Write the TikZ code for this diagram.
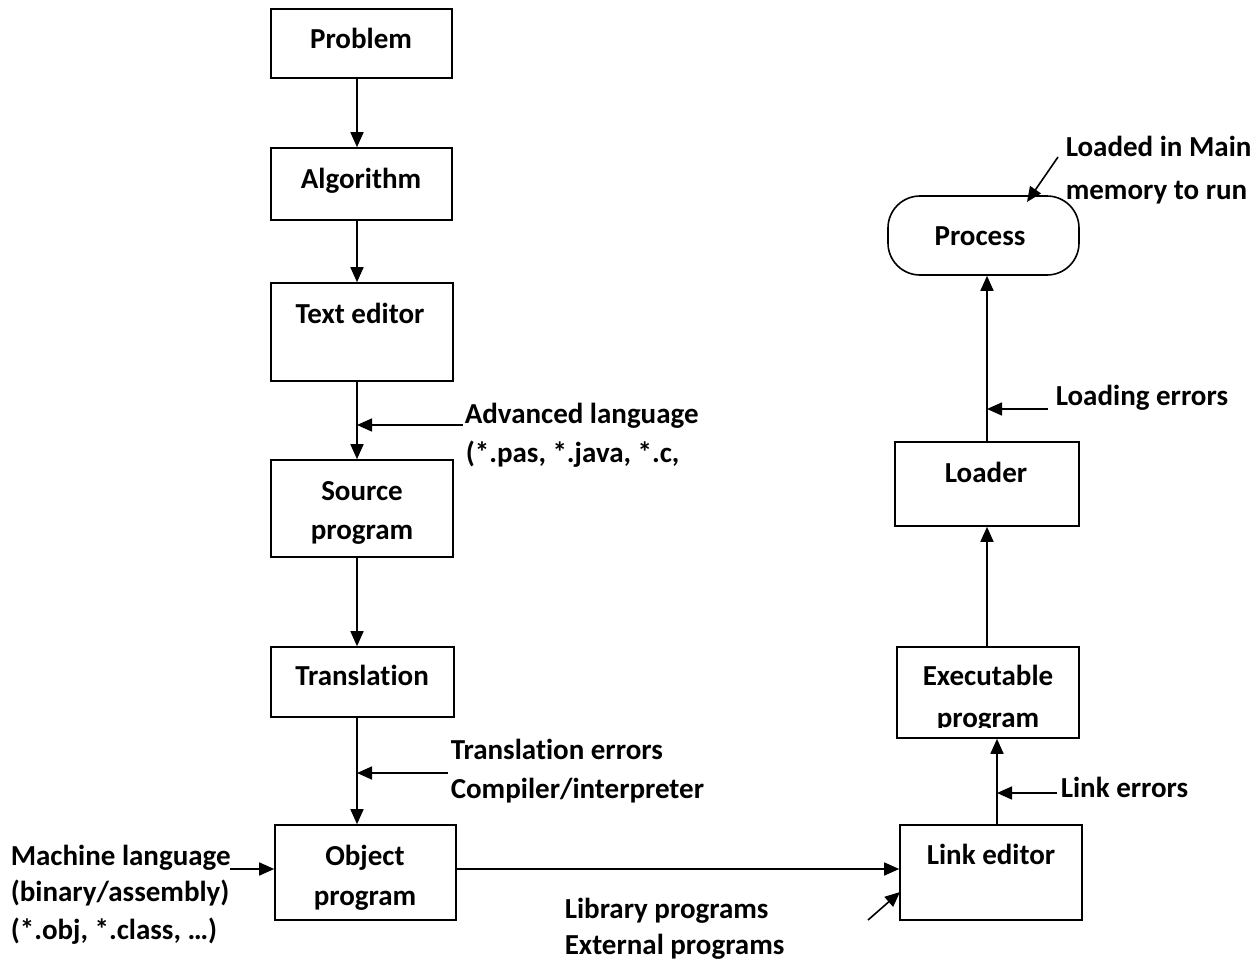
\documentclass[tikz,border=0pt]{standalone}
\usepackage{fontspec}
\setmainfont{Carlito}[Ligatures={NoCommon}]
\usetikzlibrary{arrows.meta,calc}
\begin{document}
\begin{tikzpicture}[x=1pt,y=-1pt,line width=1.6pt,
  txtfont/.style={font=\fontsize{29}{41}\selectfont\bfseries},
  box/.style={draw,rectangle,inner sep=0pt},
  intext/.style={txtfont,inner sep=0pt,anchor=base},
  lbl/.style={txtfont,inner sep=0pt,anchor=base west},
  arr/.style={-{Triangle[length=15pt,width=13pt]}}]
\useasboundingbox (0,0) rectangle (1256,964);
% left column
\node[box,minimum width=181pt,minimum height=69pt] (prob) at (361.5,43.5) {};
\node[intext] (probT) at (361,48) {Problem};
\node[box,minimum width=181pt,minimum height=72pt] (algo) at (361.5,184) {};
\node[intext] (algoT) at (361,188) {Algorithm};
\node[box,minimum width=182pt,minimum height=98pt] (edit) at (362,332) {};
\node[intext] (editT) at (360,323) {Text editor};
\node[box,minimum width=182pt,minimum height=97pt] (src) at (362,508.5) {};
\node[intext] (srcT1) at (362,500) {Source};
\node[intext] (srcT2) at (362,539) {program};
\node[box,minimum width=183pt,minimum height=70pt] (trans) at (362.5,682) {};
\node[intext] (transT) at (362,685) {Translation};
\node[box,minimum width=181pt,minimum height=95pt] (obj) at (365.5,872.5) {};
\node[intext] (objT1) at (365,865) {Object};
\node[intext] (objT2) at (365,905) {program};
% right column
\node[box,minimum width=182pt,minimum height=95pt] (link) at (991,872.5) {};
\node[intext] (linkT) at (991,864) {Link editor};
\node[box,minimum width=182pt,minimum height=91pt] (exe) at (988,692.5) {};
\begin{scope}
  \clip ($(exe.north west)$) rectangle ($(exe.south east)+(0,-11)$);
  \node[intext] (exeT1) at (988,685) {Executable};
  \node[intext] (exeT2) at (988,727) {program};
\end{scope}
\node[box,minimum width=184pt,minimum height=84pt] (load) at (987,484) {};
\node[intext] (loadT) at (986,482) {Loader};
\node[box,rounded corners=32pt,minimum width=191pt,minimum height=79pt] (proc) at (983.5,235.5) {};
\node[intext] (procT) at (980,245) {Process};
% column x positions
\coordinate (colL) at (357,0);
\coordinate (colR1) at (997,0);
\coordinate (colR2) at (987,0);
% main arrows
\draw[arr] (prob.south -| colL) -- (algo.north -| colL);
\draw[arr] (algo.south -| colL) -- (edit.north -| colL);
\draw[arr] (edit.south -| colL) -- (src.north -| colL);
\draw[arr] (src.south -| colL) -- (trans.north -| colL);
\draw[arr] (trans.south -| colL) -- (obj.north -| colL);
\coordinate (mlS) at (230,869);
\draw[arr] (mlS) -- (mlS -| obj.west);
\draw[arr] (obj.east |- mlS) -- (link.west |- mlS);
\coordinate (libS) at (868,920);
\coordinate (libE) at (900,892);
\draw[arr] (libS) -- (libE);
\draw[arr] (link.north -| colR1) -- (exe.south -| colR1);
\draw[arr] (exe.north -| colR2) -- (load.south -| colR2);
\draw[arr] (load.north -| colR2) -- (proc.south -| colR2);
% side arrows
\coordinate (advS) at (463,425);
\draw[arr] (advS) -- (advS -| colL);
\coordinate (trS) at (448,773);
\draw[arr] (trS) -- (trS -| colL);
\coordinate (lkS) at (1057,793);
\draw[arr] (lkS) -- (lkS -| colR1);
\coordinate (ldS) at (1048,409);
\draw[arr] (ldS) -- (ldS -| colR2);
\coordinate (lmS) at (1058,157);
\coordinate (lmE) at (1027,202);
\draw[arr] (lmS) -- (lmE);
% labels
\node[lbl] (advT1) at (464,423) {Advanced language};
\node[lbl] (advT2) at (465,462) {(*.pas, *.java, *.c,};
\node[lbl] (trT1) at (450,759) {Translation errors};
\node[lbl] (trT2) at (450,798) {Compiler/interpreter};
\node[lbl] (mlT1) at (10,865) {Machine language};
\node[lbl] (mlT2) at (10,901) {(binary/assembly)};
\node[lbl] (mlT3) at (10,939) {(*.obj, *.class, …)};
\node[lbl] (libT1) at (564,918) {Library programs};
\node[lbl] (libT2) at (564,954) {External programs};
\node[lbl] (lkT) at (1060,797) {Link errors};
\node[lbl] (ldT) at (1055,405) {Loading errors};
\node[lbl] (lmT1) at (1065,156) {Loaded in Main};
\node[lbl] (lmT2) at (1065,199) {memory to run};
\end{tikzpicture}
\end{document}
